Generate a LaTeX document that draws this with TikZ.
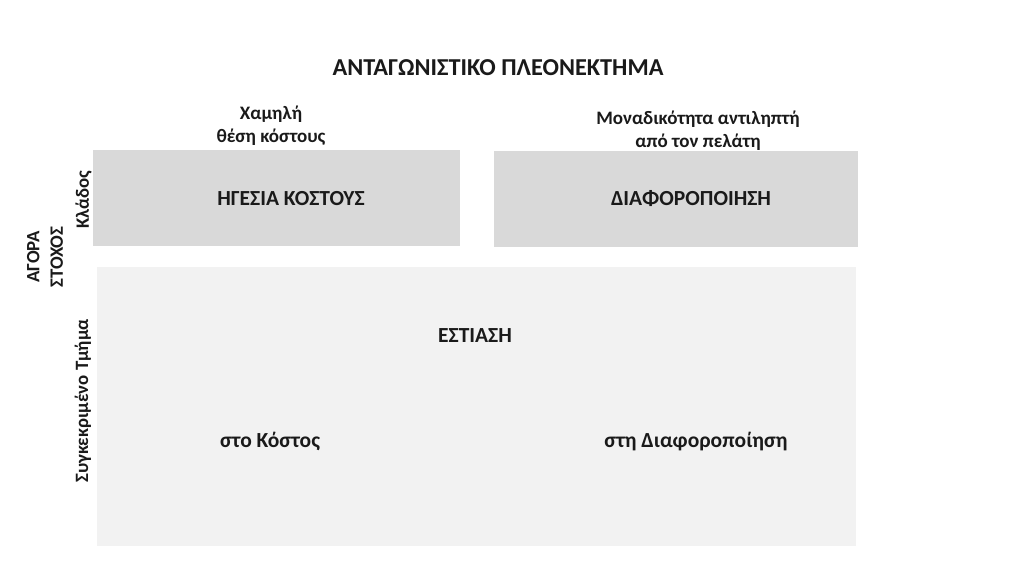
\documentclass[tikz,border=0pt]{standalone}
\usepackage{fontspec}
\setmainfont{Carlito}
\definecolor{boxdark}{HTML}{D9D9D9}
\definecolor{boxlight}{HTML}{F2F2F2}
\definecolor{txt}{HTML}{1A1A1A}
\begin{document}
\begin{tikzpicture}[x=1pt,y=-1pt,
  lbl/.style={font=\bfseries\fontsize{21.5}{26}\selectfont, text=txt, inner sep=0pt, align=center},
  small/.style={font=\bfseries\fontsize{19}{23}\selectfont, text=txt, inner sep=0pt, align=center},
  side/.style={font=\bfseries\fontsize{18.8}{23.5}\selectfont, text=txt, inner sep=0pt, align=center, rotate=90}]
\useasboundingbox (0,0) rectangle (1024,576);
\fill[white] (0,0) rectangle (1024,576);
\node[fill=boxdark, minimum width=367pt, minimum height=96pt, inner sep=0pt, anchor=north west] (cl) at (93,150) {};
\node[fill=boxdark, minimum width=364pt, minimum height=96pt, inner sep=0pt, anchor=north west] (df) at (494,151) {};
\node[fill=boxlight, minimum width=759pt, minimum height=279pt, inner sep=0pt, anchor=north west] (fo) at (97,267) {};
\node[font=\bfseries\fontsize{24.3}{29}\selectfont, text=txt, inner sep=0pt] (title) at (498,68) {ΑΝΤΑΓΩΝΙΣΤΙΚΟ ΠΛΕΟΝΕΚΤΗΜΑ};
\node[small] (low) at (271,126) {Χαμηλή\\θέση κόστους};
\node[small] (uniq) at (698,130.5) {Μοναδικότητα αντιληπτή\\από τον πελάτη};
\node[lbl] (t1) at (291,199) {ΗΓΕΣΙΑ ΚΟΣΤΟΥΣ};
\node[lbl] (t2) at (691,199) {ΔΙΑΦΟΡΟΠΟΙΗΣΗ};
\node[lbl] (t3) at (475,336) {ΕΣΤΙΑΣΗ};
\node[lbl, anchor=base] (t4) at (270,447) {στο Κόστος};
\node[lbl, anchor=base] (t5) at (696,447) {στη Διαφοροποίηση};
\node[side] (klados) at (83.5,200) {Κλάδος};
\node[side] (agora) at (45,257) {ΑΓΟΡΑ\\ΣΤΟΧΟΣ};
\node[side] (tmima) at (83,401) {Συγκεκριμένο Τμήμα};
\end{tikzpicture}
\end{document}
